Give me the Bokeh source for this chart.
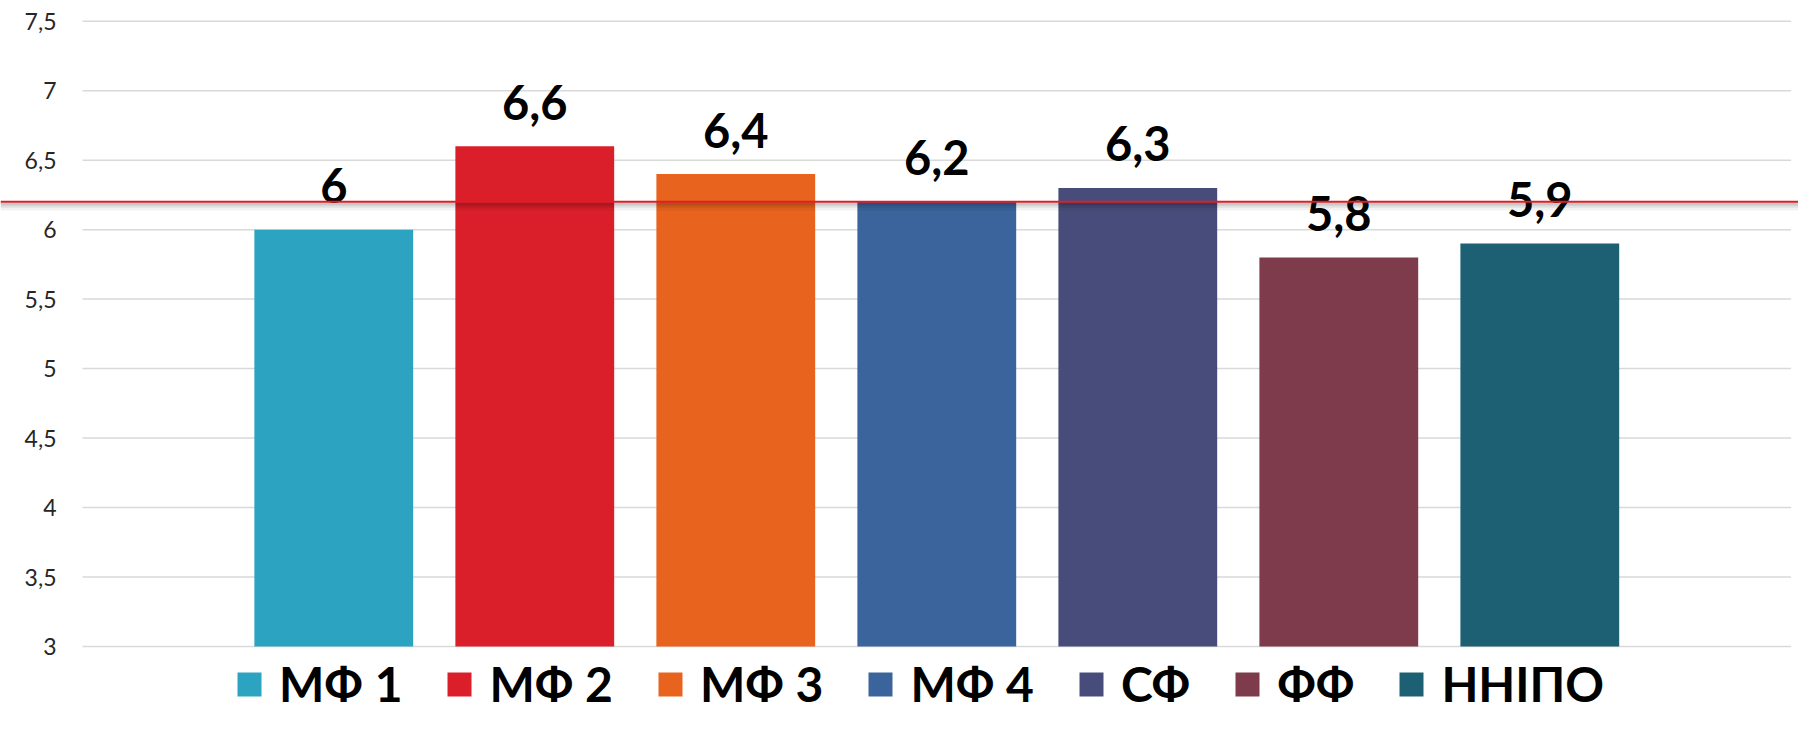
from bokeh.plotting import figure
from bokeh.models import Range1d, Span, LinearAxis, FixedTicker, Legend, LegendItem, ColumnDataSource
from bokeh.core.properties import value
from bokeh.embed import file_html
from bokeh.resources import INLINE

# ---- data ----
categories = ["МФ 1", "МФ 2", "МФ 3", "МФ 4", "СФ", "ФФ", "ННІПО"]
scores = [6.0, 6.6, 6.4, 6.2, 6.3, 5.8, 5.9]
colors = ["#2CA3C0", "#DA1F2A", "#E8631E", "#3A649B", "#484C7A", "#7E3B4C", "#1E6073"]
reference_level = 6.2
y_ticks = [3, 3.5, 4, 4.5, 5, 5.5, 6, 6.5, 7, 7.5]
y_tick_labels = ["3", "3,5", "4", "4,5", "5", "5,5", "6", "6,5", "7", "7,5"]
baseline = 3

value_labels = [f"{v:g}".replace(".", ",") for v in scores]
xs = list(range(1, len(categories) + 1))

GRID_LO = xs[0] - 1.25
GRID_HI = xs[-1] + 1.25

src = ColumnDataSource(dict(x=xs, top=scores, color=colors, name=categories, lab=value_labels))

p = figure(width=1798, height=718,
           x_range=Range1d(-0.658, 8.287), y_range=Range1d(2.482, 7.649),
           x_axis_type=None, y_axis_type=None,
           min_border=0, min_border_left=0, min_border_right=0, min_border_top=0, min_border_bottom=0,
           toolbar_location=None, output_backend="svg", outline_line_color=None)
p.background_fill_color = "white"
p.border_fill_color = "white"

# gridlines (limited to the plot area like the original chart)
p.segment(x0=[GRID_LO] * len(y_ticks), x1=[GRID_HI] * len(y_ticks), y0=y_ticks, y1=y_ticks,
          line_color="#D9D9D9", line_width=1.5, level="underlay")

# y axis drawn at the grid's left edge
yaxis = LinearAxis(fixed_location=GRID_LO, ticker=FixedTicker(ticks=y_ticks))
yaxis.major_label_overrides = dict(zip(y_ticks, y_tick_labels))
yaxis.axis_line_color = None
yaxis.major_tick_line_color = None
yaxis.minor_tick_line_color = None
yaxis.major_tick_out = 0
yaxis.major_tick_in = 0
yaxis.major_label_standoff = 26
yaxis.major_label_text_font = "Lato"
yaxis.major_label_text_font_size = "23px"
yaxis.major_label_text_color = "#262626"
p.add_layout(yaxis, "left")

bars = p.vbar(x="x", top="top", bottom=baseline, width=0.79, source=src,
              fill_color="color", line_color=None)

p.text(x="x", y="top", text="lab", source=src, text_font=value("Lato"), text_font_style="bold",
       text_font_size="47px", text_align="center", text_baseline="alphabetic",
       y_offset=-44, text_color="#000000")

# reference line with a soft shadow
for off, a, w in [(0.034, 0.05, 8), (0.025, 0.07, 5), (0.016, 0.10, 3)]:
    p.add_layout(Span(location=reference_level - off, dimension="width",
                      line_color="#000000", line_alpha=a, line_width=w))
p.add_layout(Span(location=reference_level, dimension="width", line_color="#DA1F26", line_width=2))

items = [LegendItem(label=c, renderers=[bars], index=i) for i, c in enumerate(categories)]
legend = Legend(items=items, orientation="horizontal", location=(234, 6),
                glyph_width=30, glyph_height=30, label_standoff=15, spacing=42,
                padding=0, margin=0, border_line_color=None, background_fill_alpha=0,
                label_text_font="Lato", label_text_font_style="bold", label_text_font_size="48px",
                label_text_color="#000000")
p.add_layout(legend, "center")

open("out.html", "w").write(file_html(p, INLINE))
